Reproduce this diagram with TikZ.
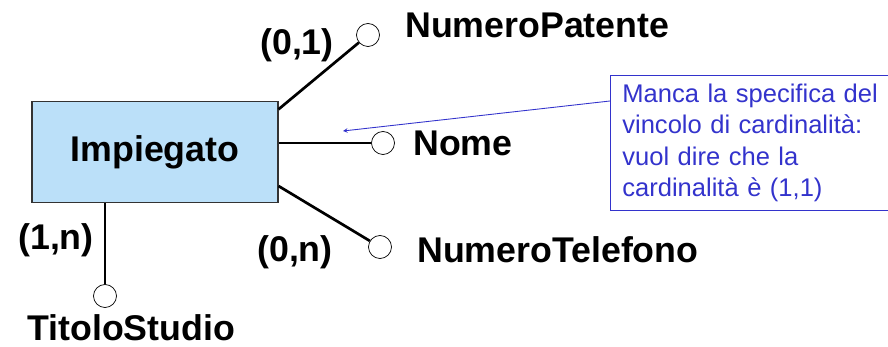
\documentclass[tikz,border=0pt]{standalone}
\usepackage{fontspec}
\setmainfont{Liberation Sans}
\usetikzlibrary{shapes.geometric, arrows, positioning}
\definecolor{entityblue}{RGB}{187,224,249}
\definecolor{noteblue}{RGB}{51,51,204}
\tikzstyle{entity} = [rectangle, minimum width=7.38cm, minimum height=3.03cm, text centered, draw=black!80, line width=0.9pt, fill=entityblue, font=\fontsize{30.5}{36}\selectfont\bfseries]
\tikzstyle{attr} = [circle, minimum size=0.69cm, inner sep=0pt, draw=black, line width=0.6pt, fill=white]
\tikzstyle{attrname} = [anchor=base west, inner sep=0pt, font=\fontsize{30.5}{36}\selectfont\bfseries]
\tikzstyle{card} = [anchor=base west, inner sep=0pt, font=\fontsize{30.5}{36}\selectfont\bfseries]
\tikzstyle{link} = [line width=2.3pt, black]
\tikzstyle{note} = [rectangle, anchor=north west, draw=noteblue, line width=0.6pt, text=noteblue, text width=8.1cm, inner xsep=0.36cm, minimum height=4.05cm, align=left, font=\fontsize{21.8}{27}\selectfont]
\tikzstyle{pointer} = [->,>=stealth, noteblue, line width=0.75pt]

\begin{document}
\begin{tikzpicture}[x=0.03cm, y=-0.03cm]
\useasboundingbox (0,0) rectangle (888,347);

\node (imp) [entity] at (155,152) {Impiegato};

\node (cpat) [attr] at (368,35) {};
\node (cnome) [attr] at (383,143) {};
\node (ctel) [attr] at (380,247) {};
\node (ctit) [attr] at (105,296) {};

\node (npat) [attrname] at (405,38) {NumeroPatente};
\node (nnome) [attrname] at (413,156) {Nome};
\node (ntel) [attrname] at (417,263) {NumeroTelefono};
\node (ntit) [attrname] at (27,341) {TitoloStudio};

\node (k01) [card] at (260,55) {(0,1)};
\node (k0n) [card] at (257,262) {(0,n)};
\node (k1n) [card] at (18,250) {(1,n)};

\draw [link] ([yshift=-0.25cm]imp.north east) -- (cpat);
\draw [link] (imp.east |- cnome) -- (cnome);
\draw [link] ([yshift=0.51cm]imp.south east) -- (ctel);
\draw [link] (imp.south -| ctit) -- (ctit);

\node (nota) [note] at (610,75) {Manca la specifica del\\vincolo di cardinalità:\\vuol dire che la\\cardinalità è (1,1)};
\coordinate (tip) at (343,131);
\draw [pointer] ([yshift=-0.78cm]nota.north west) -- (tip);

\end{tikzpicture}
\end{document}
